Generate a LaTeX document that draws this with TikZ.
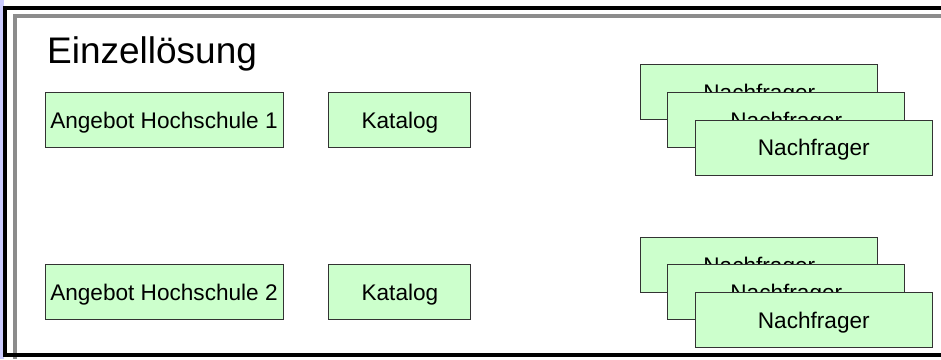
\documentclass[tikz,border=0pt]{standalone}
\usepackage{fontspec}
\setmainfont{Liberation Sans}
\usepackage{tikz}
\usetikzlibrary{positioning}

\definecolor{boxgreen}{HTML}{CCFFCC}
\definecolor{lavender}{HTML}{CCCCFF}
\definecolor{bevel}{HTML}{8C8C8C}

\tikzset{
  box/.style={rectangle, draw=black!80, line width=0.9pt, fill=boxgreen,
    minimum height=55pt, inner sep=0pt, text height=16.2pt, text depth=0pt,
    font=\fontsize{22.6}{26}\selectfont},
  offer/.style={box, minimum width=238pt},
  catalog/.style={box, minimum width=142pt},
  demand/.style={box, minimum width=237pt}
}

\begin{document}
\begin{tikzpicture}[x=1pt, y=-1pt]
  \useasboundingbox (0,0) rectangle (941,359);
  % frame
  \fill [lavender] (0,0) rectangle (3.5,359);
  \draw [bevel, line width=3.5pt] (941,16) -- (15,16) -- (15,359);
  \draw [black, line width=4pt] (941,7.5) -- (5.3,7.5) -- (5.3,355) -- (941,355);

  \node (title) [anchor=base west, inner sep=0pt, font=\fontsize{37}{42}\selectfont] at (47,63) {Einzellösung};

  % first row
  \node (offer1) [offer] at (164,120) {Angebot Hochschule 1};
  \node (catalog1) [catalog, right=45pt of offer1] {Katalog};
  \node (demandA1) [demand, right=169pt of catalog1, yshift=28pt] {Nachfrager};
  \node (demandB1) [demand, xshift=27pt, yshift=-28pt] at (demandA1) {Nachfrager};
  \node (demandC1) [demand, xshift=27.5pt, yshift=-27.5pt] at (demandB1) {Nachfrager};

  % second row
  \node (offer2) [offer] at (164,292) {Angebot Hochschule 2};
  \node (catalog2) [catalog, right=45pt of offer2] {Katalog};
  \node (demandA2) [demand, right=169pt of catalog2, yshift=27pt] {Nachfrager};
  \node (demandB2) [demand, xshift=27pt, yshift=-27pt] at (demandA2) {Nachfrager};
  \node (demandC2) [demand, xshift=27.5pt, yshift=-28pt] at (demandB2) {Nachfrager};
\end{tikzpicture}
\end{document}
